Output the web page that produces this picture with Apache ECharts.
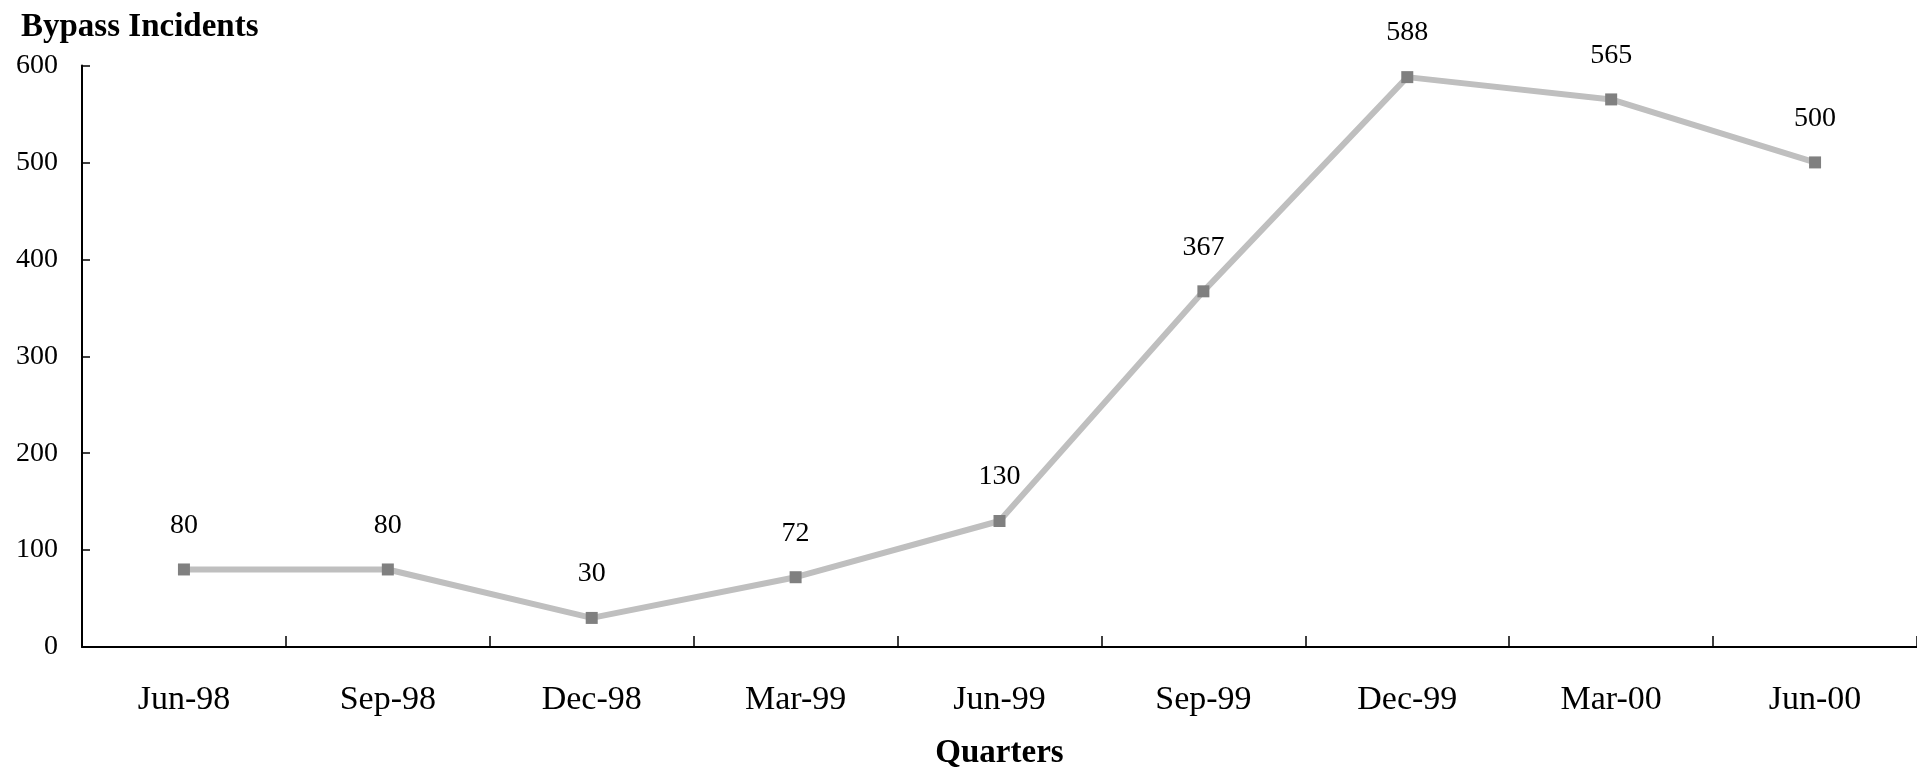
<!DOCTYPE html>
<html>
<head>
<meta charset="utf-8">
<script src="https://cdn.jsdelivr.net/npm/echarts@6/dist/echarts.min.js"></script>
<style>
html,body{margin:0;padding:0;background:#fff;}
#chart{width:1917px;height:775px;}
</style>
</head>
<body>
<div id="chart"></div>
<script>
var categories = ['Jun-98','Sep-98','Dec-98','Mar-99','Jun-99','Sep-99','Dec-99','Mar-00','Jun-00'];
var incidents = [80, 80, 30, 72, 130, 367, 588, 565, 500];
var yTicks = [0, 100, 200, 300, 400, 500, 600];

var FONT = '"Liberation Serif", "Times New Roman", serif';
var chart = echarts.init(document.getElementById('chart'));
chart.setOption({
  animation: false,
  backgroundColor: '#ffffff',
  title: {
    text: 'Bypass Incidents',
    left: 21,
    top: 11,
    padding: 0,
    textStyle: {fontFamily: FONT, fontWeight: 'bold', fontSize: 33, color: '#000'}
  },
  grid: {left: 82, right: -13, top: 65.5, bottom: 121, containLabel: false},
  xAxis: {
    type: 'category',
    data: categories,
    boundaryGap: true,
    name: 'Quarters',
    nameLocation: 'middle',
    nameGap: 90,
    nameTextStyle: {fontFamily: FONT, fontWeight: 'bold', fontSize: 33, color: '#000'},
    axisLine: {lineStyle: {color: '#000', width: 2}},
    axisTick: {show: true, inside: true, length: 11, lineStyle: {color: '#000', width: 1.5}},
    axisLabel: {fontFamily: FONT, fontSize: 34, color: '#000', margin: 36},
    splitLine: {show: false}
  },
  yAxis: {
    type: 'value',
    min: yTicks[0],
    max: yTicks[yTicks.length - 1],
    interval: yTicks[1] - yTicks[0],
    axisLine: {show: true, lineStyle: {color: '#000', width: 2}},
    axisTick: {show: true, inside: true, length: 8, lineStyle: {color: '#000', width: 1.5}},
    axisLabel: {fontFamily: FONT, fontSize: 28, color: '#000', margin: 24},
    splitLine: {show: false}
  },
  series: [{
    type: 'line',
    data: incidents,
    symbol: 'rect',
    symbolSize: 12,
    itemStyle: {color: '#808080'},
    lineStyle: {color: '#bfbfbf', width: 6},
    label: {
      show: true,
      position: 'top',
      distance: 24,
      fontFamily: FONT,
      fontSize: 28,
      color: '#000'
    }
  }]
});
</script>
</body>
</html>
